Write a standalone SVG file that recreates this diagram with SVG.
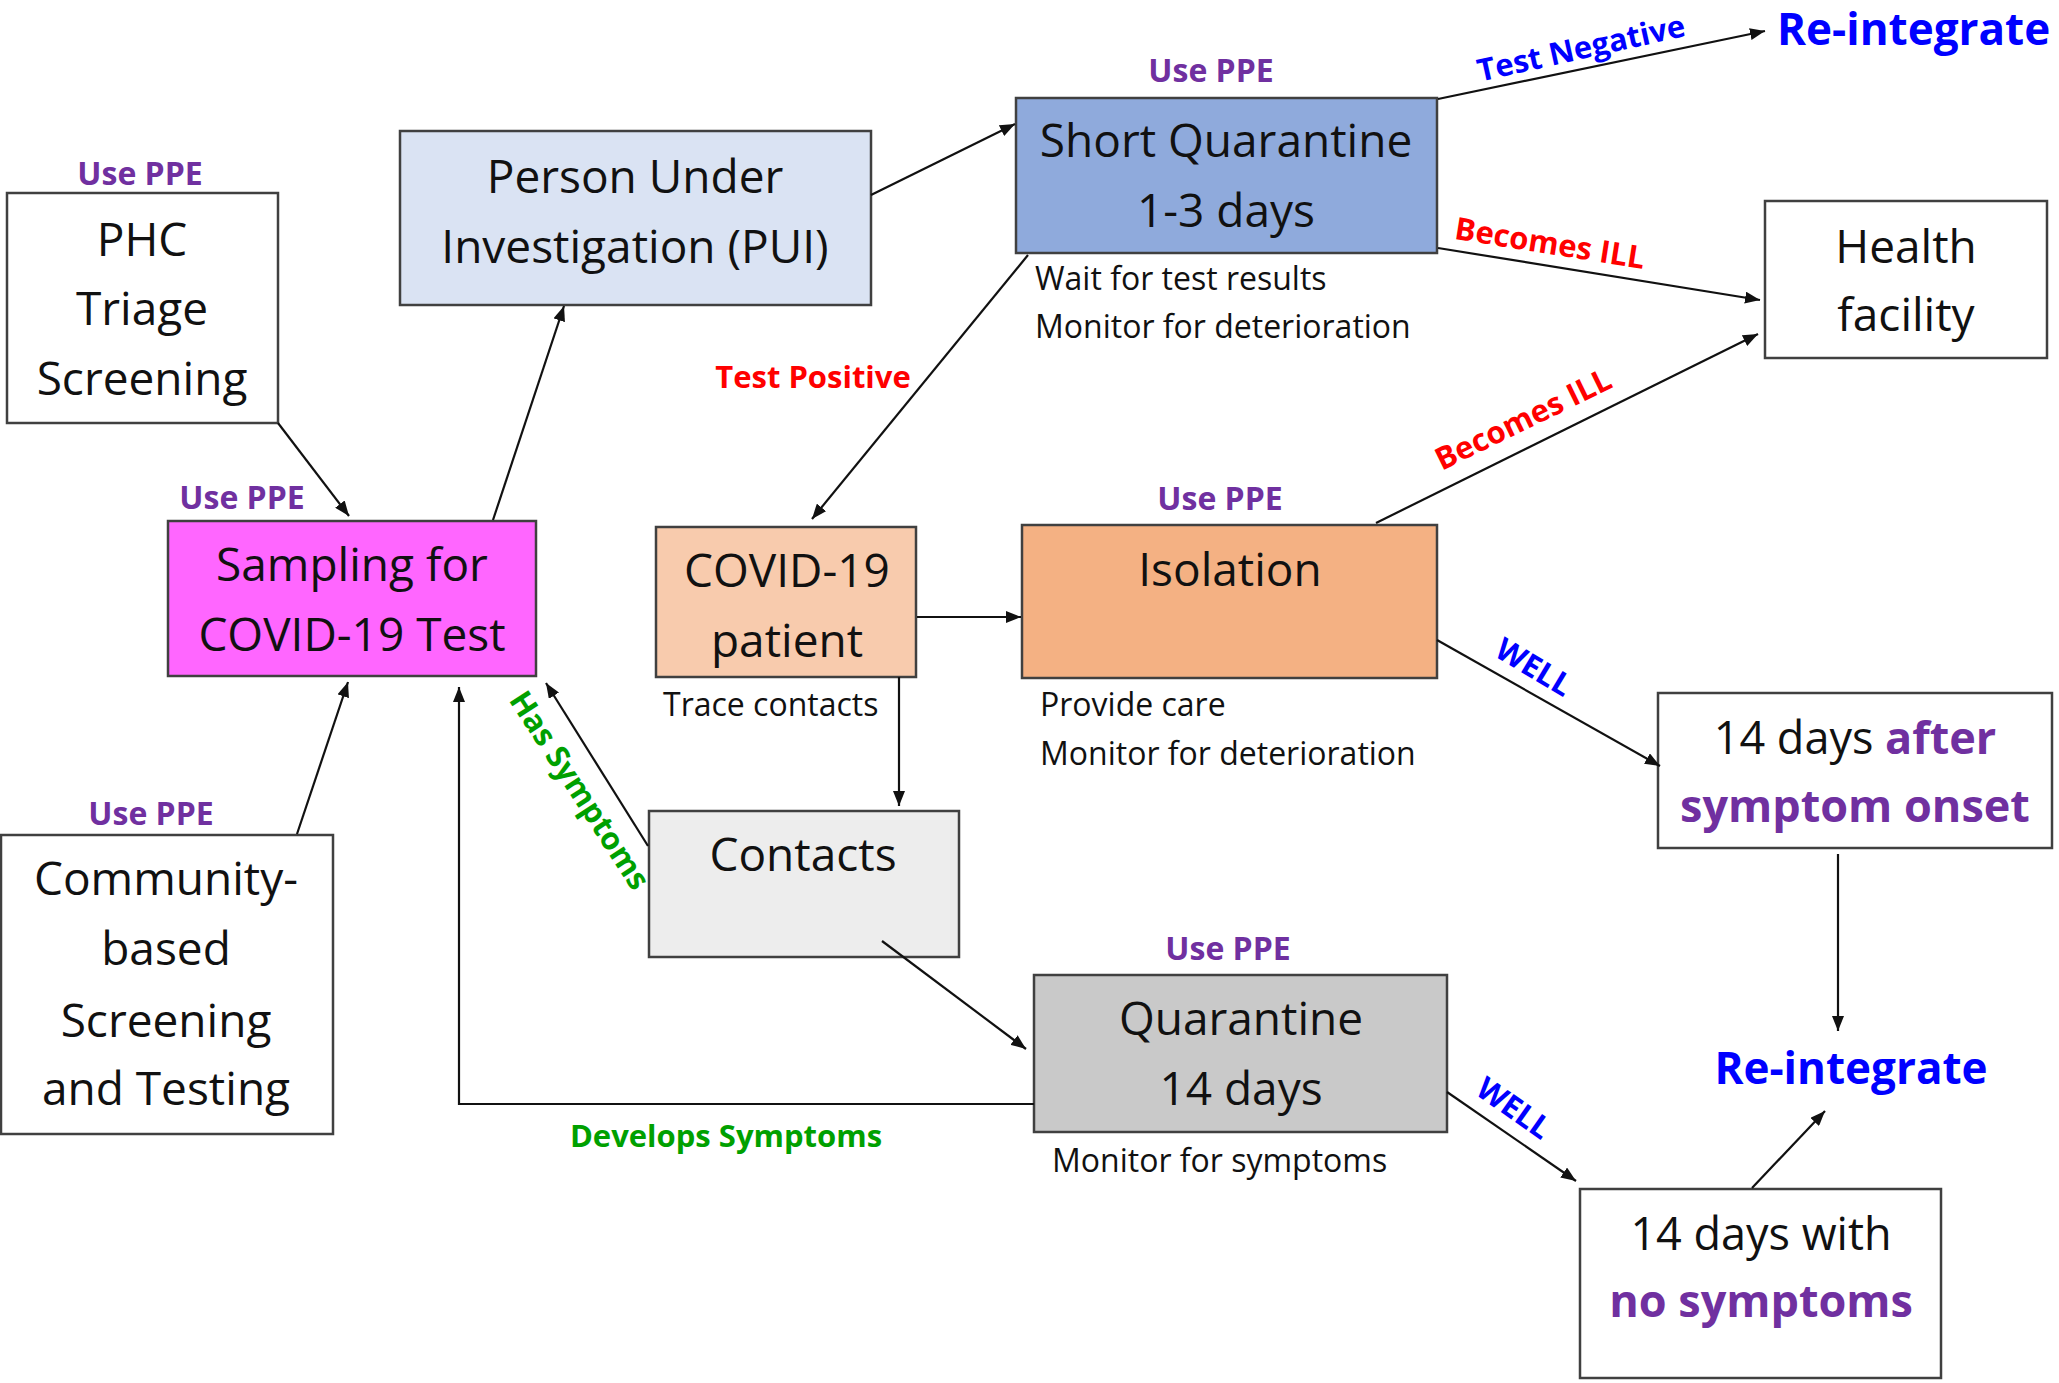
<svg xmlns="http://www.w3.org/2000/svg" width="2059" height="1383" viewBox="0 0 2059 1383">
<style>
.box{stroke:#404040;stroke-width:2.5}
.t{font-family:"Open Sans","Liberation Sans",sans-serif;font-size:46px;fill:#111;text-anchor:middle}
.s{font-family:"Open Sans","Liberation Sans",sans-serif;font-size:32px;fill:#111}
.ppe{font-family:"Open Sans","Liberation Sans",sans-serif;font-size:32px;font-weight:bold;fill:#7030A0;text-anchor:middle}
.lb{font-family:"Open Sans","Liberation Sans",sans-serif;font-size:31px;font-weight:bold;text-anchor:middle}
.ri{font-family:"Open Sans","Liberation Sans",sans-serif;font-size:44px;font-weight:bold;fill:#0000FF}
.pb{font-weight:bold;fill:#7030A0}
.c{fill:none;stroke:#111;stroke-width:2.2;marker-end:url(#ah)}
</style>
<defs>
<marker id="ah" markerUnits="userSpaceOnUse" markerWidth="16" markerHeight="12" refX="15" refY="6" orient="auto">
<path d="M0,0 L15,6 L0,12 z" fill="#111"/>
</marker>
</defs>
<rect width="2059" height="1383" fill="#fff"/>
<g id="phc">
<rect class="box" x="7" y="193" width="271" height="230" fill="#fff"/>
<text class="ppe" x="140" y="185">Use PPE</text>
<text class="t" x="142" y="256">PHC</text>
<text class="t" x="142" y="325">Triage</text>
<text class="t" x="142" y="395">Screening</text>
</g>
<g id="sampling">
<rect class="box" x="168" y="521" width="368" height="155" fill="#FF66FF"/>
<text class="ppe" x="242" y="509">Use PPE</text>
<text class="t" x="352" y="581">Sampling for</text>
<text class="t" x="352" y="651">COVID-19 Test</text>
</g>
<g id="pui">
<rect class="box" x="400" y="131" width="471" height="174" fill="#DAE3F3"/>
<text class="t" x="635" y="193">Person Under</text>
<text class="t" x="635" y="263">Investigation (PUI)</text>
</g>
<g id="short-quarantine">
<rect class="box" x="1016" y="98" width="421" height="155" fill="#8FAADC"/>
<text class="ppe" x="1211" y="82">Use PPE</text>
<text class="t" x="1226" y="157">Short Quarantine</text>
<text class="t" x="1226" y="227">1-3 days</text>
<text class="s" x="1035" y="290">Wait for test results</text>
<text class="s" x="1035" y="338">Monitor for deterioration</text>
</g>
<g id="reintegrate-top">
<text class="ri" x="1777" y="45">Re-integrate</text>
</g>
<g id="health-facility">
<rect class="box" x="1765" y="201" width="282" height="157" fill="#fff"/>
<text class="t" x="1906" y="263">Health</text>
<text class="t" x="1906" y="331">facility</text>
</g>
<g id="covid-patient">
<rect class="box" x="656" y="527" width="260" height="150" fill="#F8CBAD"/>
<text class="t" x="787" y="587">COVID-19</text>
<text class="t" x="787" y="657">patient</text>
<text class="s" x="663" y="716">Trace contacts</text>
</g>
<g id="isolation">
<rect class="box" x="1022" y="525" width="415" height="153" fill="#F4B183"/>
<text class="ppe" x="1220" y="510">Use PPE</text>
<text class="t" x="1230" y="586">Isolation</text>
<text class="s" x="1040" y="716">Provide care</text>
<text class="s" x="1040" y="765">Monitor for deterioration</text>
</g>
<g id="contacts">
<rect class="box" x="649" y="811" width="310" height="146" fill="#EDEDED"/>
<text class="t" x="803" y="871">Contacts</text>
</g>
<g id="quarantine">
<rect class="box" x="1034" y="975" width="413" height="157" fill="#C9C9C9"/>
<text class="ppe" x="1228" y="960">Use PPE</text>
<text class="t" x="1241" y="1035">Quarantine</text>
<text class="t" x="1241" y="1105">14 days</text>
<text class="s" x="1052" y="1172">Monitor for symptoms</text>
</g>
<g id="community">
<rect class="box" x="1" y="835" width="332" height="299" fill="#fff"/>
<text class="ppe" x="151" y="825">Use PPE</text>
<text class="t" x="166" y="895">Community-</text>
<text class="t" x="166" y="965">based</text>
<text class="t" x="166" y="1037">Screening</text>
<text class="t" x="166" y="1105">and Testing</text>
</g>
<g id="after-onset">
<rect class="box" x="1658" y="693" width="394" height="155" fill="#fff"/>
<text class="t" x="1855" y="754" style="font-size:45px">14 days <tspan class="pb">after</tspan></text>
<text class="t pb" x="1855" y="822" style="font-size:45px">symptom onset</text>
</g>
<g id="reintegrate-bottom">
<text class="ri" x="1851" y="1084" text-anchor="middle">Re-integrate</text>
</g>
<g id="no-symptoms">
<rect class="box" x="1580" y="1189" width="361" height="189" fill="#fff"/>
<text class="t" x="1761" y="1250" style="font-size:45px">14 days with</text>
<text class="t pb" x="1761" y="1317" style="font-size:45px">no symptoms</text>
</g>
<g id="connectors">
<path class="c" d="M278,423 L349,516"/>
<path class="c" d="M493,520 L564,306"/>
<path class="c" d="M297,834 L348,682"/>
<path class="c" d="M871,195 L1015,124"/>
<path class="c" d="M1028,255 L812,519"/>
<path class="c" d="M1438,99 L1765,31"/>
<path class="c" d="M1438,248 L1760,300"/>
<path class="c" d="M1376,523 L1758,334"/>
<path class="c" d="M917,617 L1021,617"/>
<path class="c" d="M899,677 L899,806"/>
<path class="c" d="M648,846 L546,683"/>
<path class="c" d="M1034,1104 L459,1104 L459,687"/>
<path class="c" d="M882,941 L1026,1049"/>
<path class="c" d="M1437,640 L1660,766"/>
<path class="c" d="M1838,854 L1838,1031"/>
<path class="c" d="M1447,1092 L1576,1181"/>
<path class="c" d="M1752,1188 L1825,1111"/>
<text class="lb" x="813" y="388" fill="#FF0000">Test Positive</text>
<text class="lb" x="726" y="1147" fill="#00A000">Develops Symptoms</text>
<text class="lb" fill="#0000FF" transform="translate(1581,48) rotate(-12.5)" x="0" y="11">Test Negative</text>
<text class="lb" fill="#FF0000" transform="translate(1550,243) rotate(9)" x="0" y="11">Becomes ILL</text>
<text class="lb" fill="#FF0000" transform="translate(1523,419) rotate(-26)" x="0" y="11">Becomes ILL</text>
<text class="lb" fill="#0000FF" transform="translate(1534,667) rotate(31)" x="0" y="11">WELL</text>
<text class="lb" fill="#0000FF" transform="translate(1514,1108) rotate(35)" x="0" y="11">WELL</text>
<text class="lb" fill="#00A000" transform="translate(580,790) rotate(57)" x="0" y="11">Has Symptoms</text>
</g>
</svg>
